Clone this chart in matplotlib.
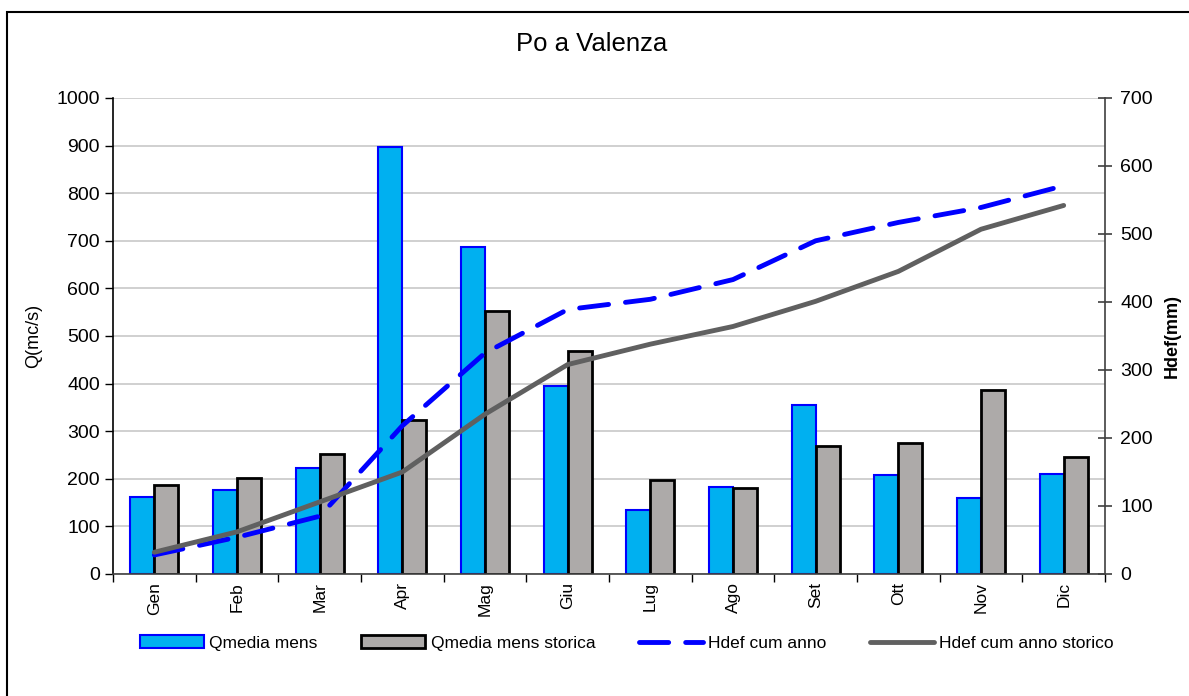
import numpy as np
import matplotlib.pyplot as plt
from matplotlib.patches import Rectangle

plt.rcParams['font.family'] = ['Liberation Sans', 'DejaVu Sans']

months = ['Gen', 'Feb', 'Mar', 'Apr', 'Mag', 'Giu', 'Lug', 'Ago', 'Set', 'Ott', 'Nov', 'Dic']
q_mens = [162, 177, 222, 897, 688, 394, 134, 182, 355, 207, 160, 210]
q_storica = [187, 202, 253, 323, 552, 468, 197, 180, 268, 276, 387, 246]
hdef_anno = [28, 54, 85, 218, 325, 389, 404, 433, 490, 517, 539, 571]
hdef_storico = [32, 62, 106, 150, 235, 308, 338, 364, 401, 445, 507, 542]

fig = plt.figure(figsize=(11.89, 6.96), dpi=100)
# outer chart border
fig.patches.append(Rectangle((7 / 1189, -0.1), 1.2, (696 - 12) / 696 + 0.1,
                             transform=fig.transFigure, fill=False,
                             edgecolor='black', linewidth=1.5))

ax1 = fig.add_axes([113 / 1189, 122 / 696, 992 / 1189, 476 / 696])
x = np.arange(len(months))
w = 0.29
b1 = ax1.bar(x - w / 2, q_mens, w, color='#00B0F0', edgecolor='#0000FF',
             linewidth=1.5, label='Qmedia mens', zorder=2)
b2 = ax1.bar(x + w / 2, q_storica, w, color='#ADAAA9', edgecolor='black',
             linewidth=2, label='Qmedia mens storica', zorder=2)
ax1.set_xlim(-0.5, 11.5)
ax1.set_ylim(0, 1000)
ax1.set_yticks(np.arange(0, 1001, 100))
ax1.yaxis.grid(True, color='#C8C8C8', linewidth=1.2, zorder=0)
ax1.set_axisbelow(True)
ax1.set_xticks(np.arange(-0.5, 12, 1), minor=False)
ax1.set_xticklabels([])
ax1.set_xticks(x, minor=True)
ax1.set_xticklabels(months, minor=True, rotation=90, fontsize=12.5)
ax1.tick_params(axis='x', which='minor', length=0, pad=6)
ax1.tick_params(axis='x', which='major', length=6, direction='out', width=1)
ax1.tick_params(axis='y', length=6, direction='out', labelsize=14, width=1)
ax1.set_ylabel('Q(mc/s)', fontsize=13, labelpad=10)
for s in ['top', 'right']:
    ax1.spines[s].set_visible(False)
ax1.spines['left'].set_linewidth(1.2)
ax1.spines['bottom'].set_linewidth(1.2)
ax1.spines['bottom'].set_color('#404040')

ax2 = ax1.twinx()
l1, = ax2.plot(x, hdef_anno, color='#0000FF', linewidth=3.5, dashes=(6, 3.5),
               dash_capstyle='round', label='Hdef cum anno', zorder=3)
l2, = ax2.plot(x, hdef_storico, color='#606060', linewidth=3.5,
               solid_capstyle='round', label='Hdef cum anno storico', zorder=3)
ax2.set_ylim(0, 700)
ax2.set_yticks(np.arange(0, 701, 100))
ax2.tick_params(axis='y', length=10, direction='inout', labelsize=14,
                color='#404040', width=1.2, pad=6)
ax2.set_ylabel('Hdef(mm)', fontsize=13, fontweight='bold', labelpad=8)
for s in ['top', 'left', 'bottom']:
    ax2.spines[s].set_visible(False)
ax2.spines['right'].set_color('#404040')
ax2.spines['right'].set_linewidth(1.2)

fig.text(592 / 1189, 1 - 44 / 696, 'Po a Valenza', ha='center', va='center', fontsize=18.5)

fig.legend([b1, b2, l1, l2],
           ['Qmedia mens', 'Qmedia mens storica', 'Hdef cum anno', 'Hdef cum anno storico'],
           loc='center', bbox_to_anchor=(627 / 1189, 1 - 643 / 696), ncol=4,
           frameon=False, fontsize=12.5, handlelength=3.7, handletextpad=0.3,
           columnspacing=2.5)

fig.savefig('out.png', dpi=100)
